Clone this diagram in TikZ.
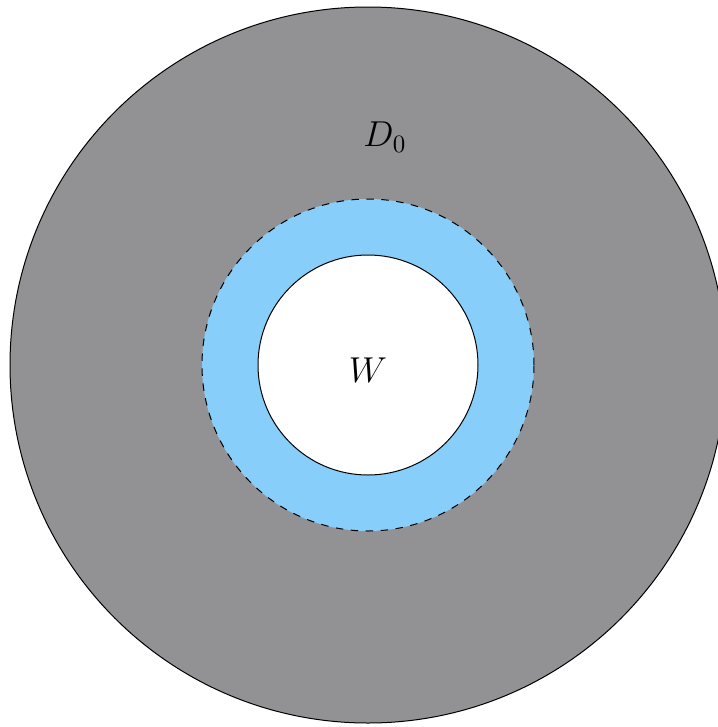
\documentclass[tikz,border=0pt]{standalone}
\definecolor{diskgray}{RGB}{146,146,148}
\definecolor{annblue}{RGB}{135,206,250}
\begin{document}
\begin{tikzpicture}[x=0.4pt,y=-0.4pt,
  ring/.style={draw=black,line width=0.4pt}]
\useasboundingbox (0,0) rectangle (718,727);
\clip (0,0) rectangle (718,727);
\coordinate (c) at (368,365);
\fill[diskgray,ring] (c) circle[radius=358*0.4pt];
\fill[annblue] (c) circle[radius=166*0.4pt];
\draw[dashed,line width=0.4pt] (c) circle[radius=166*0.4pt];
\fill[white,ring] (c) circle[radius=110*0.4pt];
\node (W) at (368,370) {\Large $W$};
\node (D) at (385,137) {\Large $D_0$};
\end{tikzpicture}
\end{document}
